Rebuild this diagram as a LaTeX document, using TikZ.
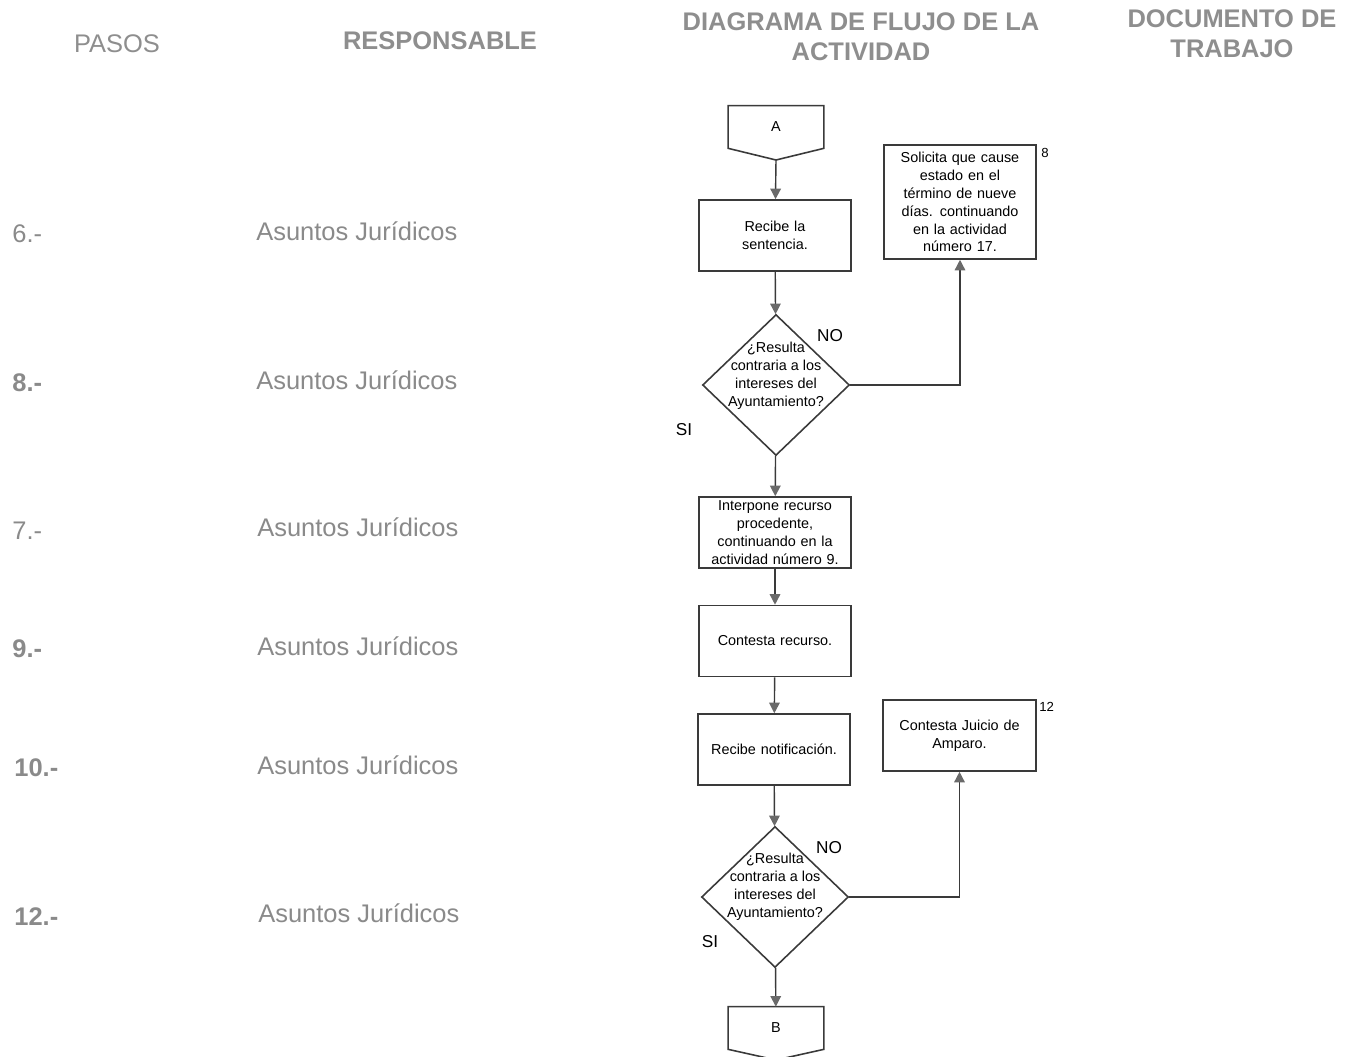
\documentclass[tikz,border=0pt]{standalone}
\usepackage{fontspec}
\setmainfont{Liberation Sans}
\usetikzlibrary{shapes.geometric,arrows.meta}
\definecolor{hdrgray}{HTML}{8E8E8E}
\definecolor{stepgray}{HTML}{8A8A8A}
\definecolor{linegray}{HTML}{3A3A3A}
\definecolor{tipgray}{HTML}{6A6A6A}
\tikzset{
  box/.style={draw=linegray, line width=0.9pt, minimum width=3.04cm, minimum height=1.42cm,
    text width=2.9cm, align=center, inner sep=0pt, font=\fontsize{8.2}{10.2}\selectfont},
  decision/.style={diamond, draw=linegray, line width=0.9pt, minimum width=2.94cm,
    minimum height=2.82cm, inner sep=0pt},
  dtext/.style={align=center, inner sep=0pt, font=\fontsize{8.2}{10.2}\selectfont},
  offpage/.style={minimum width=1.9cm, minimum height=0.84cm, inner sep=0pt,
    font=\fontsize{8.2}{10}\selectfont},
  conn/.style={draw=linegray, line width=0.8pt,
    -{Triangle[width=6pt,length=6pt,color=tipgray,fill=tipgray]}},
  hdr/.style={text=hdrgray, align=center, font=\fontsize{14.5}{17}\selectfont\bfseries},
  paso/.style={text=stepgray, anchor=west, inner sep=0pt, font=\fontsize{14.5}{17}\selectfont},
  pasob/.style={paso, font=\fontsize{14.5}{17}\selectfont\bfseries},
  resp/.style={text=stepgray, anchor=west, inner sep=0pt, font=\fontsize{14.5}{17}\selectfont},
  yesno/.style={font=\fontsize{9.8}{11}\selectfont},
  tag/.style={font=\fontsize{7.5}{9}\selectfont, anchor=west, inner sep=0pt}
}
\begin{document}
\begin{tikzpicture}[x=0.02cm, y=-0.02cm]
  \useasboundingbox (0,0) rectangle (1353,1057);
  % column headers
  \node[hdr, font=\fontsize{14.5}{17}\selectfont] (hPasos) at (117,44) {PASOS};
  \node[hdr] (hResp) at (440,41) {RESPONSABLE};
  \node[hdr] (hDiag) at (861,37) {DIAGRAMA DE FLUJO DE LA\\ACTIVIDAD};
  \node[hdr] (hDoc) at (1232,34) {DOCUMENTO DE\\TRABAJO};
  % steps and responsible
  \node[paso] (p6) at (12,234) {6.-};
  \node[pasob] (p8) at (12,383) {8.-};
  \node[paso] (p7) at (12,531) {7.-};
  \node[pasob] (p9) at (12,649) {9.-};
  \node[pasob] (p10) at (14,768) {10.-};
  \node[pasob] (p12) at (14,917) {12.-};
  \node[resp] (r6) at (256,231) {Asuntos Jurídicos};
  \node[resp] (r8) at (256,380) {Asuntos Jurídicos};
  \node[resp] (r7) at (257,527) {Asuntos Jurídicos};
  \node[resp] (r9) at (257,646) {Asuntos Jurídicos};
  \node[resp] (r10) at (257,765) {Asuntos Jurídicos};
  \node[resp] (r12) at (258,913) {Asuntos Jurídicos};
  % flow
  \node[offpage] (A) at (776,127) {A};
  \draw[draw=linegray, line width=0.9pt] (A.south west) -- (A.north west) -- (A.north east)
    -- (A.south east) -- (776,160) -- cycle;
  \coordinate (Atip) at (776,160);
  \node[box] (sent) at (775,235.5) {Recibe la\\sentencia.};
  \node[decision] (d1) at (776,385) {};
  \node[dtext] (d1t) at (776,376) {¿Resulta\\contraria a los\\intereses del\\Ayuntamiento?};
  \node[box, minimum height=2.28cm] (sol) at (960,202) {Solicita que cause\\estado en el\\término de nueve\\días. continuando\\en la actividad\\número 17.};
  \node[tag] (t8) at (1041,153) {8};
  \node[yesno] (no1) at (830,336) {NO};
  \node[yesno] (si1) at (684,430) {SI};
  \node[box] (interp) at (775,532.5) {Interpone recurso\\procedente,\\continuando en la\\actividad número 9.};
  \node[box] (contr) at (775,641) {Contesta recurso.};
  \node[box] (notif) at (774,749.5) {Recibe notificación.};
  \node[box, minimum width=3.06cm] (amp) at (959.5,735.5) {Contesta Juicio de\\Amparo.};
  \node[tag] (t12) at (1039,707) {12};
  \node[decision] (d2) at (775,897) {};
  \node[dtext] (d2t) at (775,887) {¿Resulta\\contraria a los\\intereses del\\Ayuntamiento?};
  \node[yesno] (no2) at (829,848) {NO};
  \node[yesno] (si2) at (710,942) {SI};
  \node[offpage] (B) at (776,1028) {B};
  \draw[draw=linegray, line width=0.9pt] (B.south west) -- (B.north west) -- (B.north east)
    -- (B.south east) -- (776,1060) -- cycle;
  % connectors
  \draw[conn] (Atip) -- (sent);
  \draw[conn] (sent) -- (d1);
  \draw[conn] (d1.east) -| (sol.south);
  \draw[conn] (d1) -- (interp);
  \draw[conn] (interp) -- (contr);
  \draw[conn] (contr) -- (notif);
  \draw[conn] (notif) -- (d2);
  \draw[conn] (d2.east) -| (amp.south);
  \draw[conn] (d2) -- (B);
\end{tikzpicture}
\end{document}
